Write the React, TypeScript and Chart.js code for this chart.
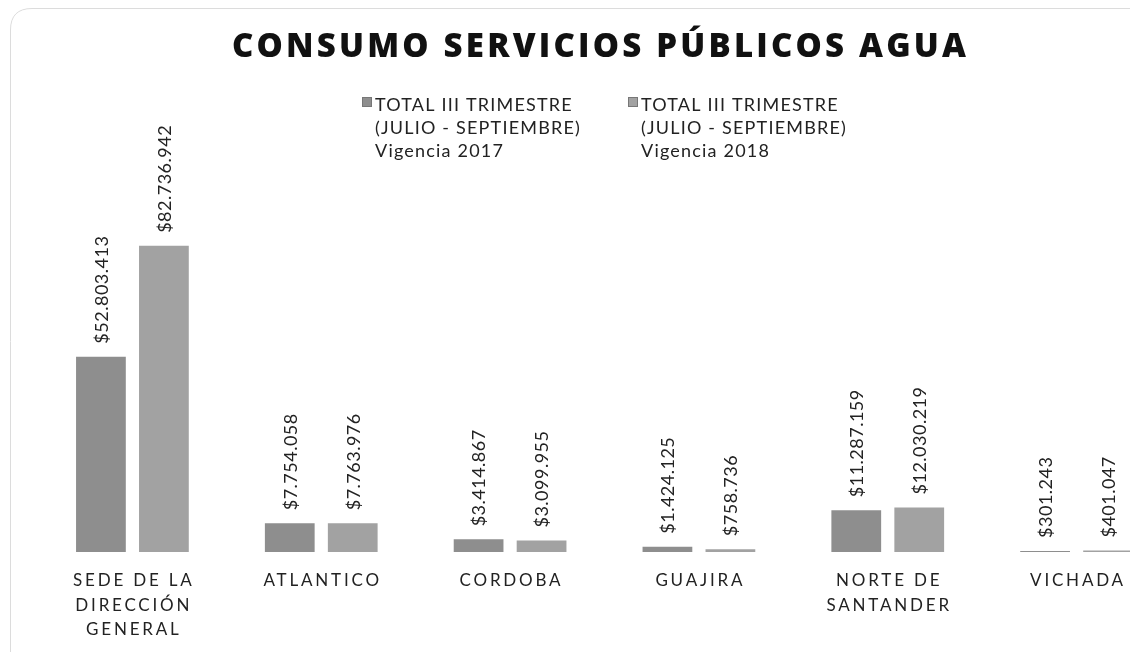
import React, { useEffect, useRef } from "react";
import { Chart, registerables } from "chart.js";

Chart.register(...registerables);

const TITLE = "CONSUMO SERVICIOS PÚBLICOS AGUA";
const categories: string[][] = [
  ["SEDE DE LA", "DIRECCIÓN", "GENERAL"],
  ["ATLANTICO"],
  ["CORDOBA"],
  ["GUAJIRA"],
  ["NORTE DE", "SANTANDER"],
  ["VICHADA"],
];
const seriesNames: string[][] = [
  ["TOTAL III TRIMESTRE", "(JULIO - SEPTIEMBRE)", "Vigencia 2017"],
  ["TOTAL III TRIMESTRE", "(JULIO - SEPTIEMBRE)", "Vigencia 2018"],
];
const values2017: number[] = [52803413, 7754058, 3414867, 1424125, 11287159, 301243];
const values2018: number[] = [82736942, 7763976, 3099955, 758736, 12030219, 401047];
const colors: string[] = ["#8e8e8e", "#a2a2a2"];

const fmt = (v: number) =>
  "$" + Math.round(v).toString().replace(/\B(?=(\d{3})+(?!\d))/g, ".");

const FONT = "Lato, 'Open Sans', sans-serif";

function drawSpaced(ctx: CanvasRenderingContext2D, text: string, x: number, y: number, spacing: number) {
  (ctx as any).letterSpacing = spacing + "px";
  const w = ctx.measureText(text).width - spacing;
  ctx.textAlign = "left";
  ctx.fillText(text, x - w / 2, y);
  (ctx as any).letterSpacing = "0px";
}

const decorPlugin = {
  id: "decor",
  afterDatasetsDraw(chart: any) {
    const ctx: CanvasRenderingContext2D = chart.ctx;
    const xs = chart.scales.x;
    const ys = chart.scales.y;
    ctx.save();

    // faint scanned frame
    ctx.strokeStyle = "#dcdcdc";
    ctx.lineWidth = 1;
    ctx.beginPath();
    ctx.moveTo(10.5, 660);
    ctx.lineTo(10.5, 30);
    ctx.quadraticCurveTo(10.5, 8.5, 32, 8.5);
    ctx.lineTo(1180, 8.5);
    ctx.stroke();

    // title
    ctx.fillStyle = "#111";
    ctx.font = "800 33px 'Open Sans', sans-serif";
    ctx.textBaseline = "alphabetic";
    (ctx as any).letterSpacing = "0px";
    const w0 = ctx.measureText(TITLE).width;
    const target = 734;
    const ls = (target - w0) / (TITLE.length - 1);
    (ctx as any).letterSpacing = ls + "px";
    ctx.textAlign = "left";
    ctx.fillText(TITLE, 599 - target / 2, 57);
    (ctx as any).letterSpacing = "0px";

    // legend
    const legendX = [362, 628];
    ctx.font = "18px " + FONT;
    ctx.textBaseline = "alphabetic";
    seriesNames.forEach((lines, i) => {
      ctx.fillStyle = colors[i];
      ctx.fillRect(legendX[i], 97, 10, 10);
      ctx.strokeStyle = "#777";
      ctx.strokeRect(legendX[i] + 0.5, 97.5, 9, 9);
      ctx.fillStyle = "#222";
      ctx.textAlign = "left";
      (ctx as any).letterSpacing = "1.2px";
      lines.forEach((ln, j) => {
        ctx.fillText(ln, legendX[i] + 13, 111 + j * 23);
      });
      (ctx as any).letterSpacing = "0px";
    });

    // category labels
    ctx.fillStyle = "#222";
    ctx.font = "17px " + FONT;
    ctx.textBaseline = "middle";
    categories.forEach((lines, i) => {
      const cx = xs.getPixelForValue(i);
      lines.forEach((ln, j) => {
        drawSpaced(ctx, ln, cx, 581 + j * 24.5, 2.8);
      });
    });

    // data labels
    ctx.font = "18px " + FONT;
    ctx.fillStyle = "#222";
    chart.data.datasets.forEach((ds: any, di: number) => {
      const meta = chart.getDatasetMeta(di);
      meta.data.forEach((bar: any, i: number) => {
        const v = ds.data[i];
        const top = ys.getPixelForValue(v);
        ctx.save();
        ctx.translate(bar.x + 1, top - 13);
        ctx.rotate(-Math.PI / 2);
        ctx.textAlign = "left";
        ctx.textBaseline = "middle";
        (ctx as any).letterSpacing = "0.5px";
        ctx.fillText(fmt(v), 0, 0);
        ctx.restore();
      });
    });

    ctx.restore();
  },
};

export default function App() {
  const ref = useRef<HTMLCanvasElement | null>(null);
  useEffect(() => {
    if (!ref.current) return;
    const chart = new Chart(ref.current, {
      type: "bar",
      data: {
        labels: categories.map((c) => c.join(" ")),
        datasets: [
          {
            label: seriesNames[0].join(" "),
            data: values2017,
            backgroundColor: colors[0],
            categoryPercentage: 0.667,
            barPercentage: 0.79,
          },
          {
            label: seriesNames[1].join(" "),
            data: values2018,
            backgroundColor: colors[1],
            categoryPercentage: 0.667,
            barPercentage: 0.79,
          },
        ],
      },
      options: {
        responsive: false,
        animation: false,
        layout: { padding: { top: 182, bottom: 100, left: 38, right: 9 } },
        plugins: {
          legend: { display: false },
          title: { display: false },
          tooltip: { enabled: false },
        },
        scales: {
          x: { display: false },
          y: { display: false, min: 0, max: 100000000 },
        },
      },
      plugins: [decorPlugin],
    });
    return () => chart.destroy();
  }, []);

  return (
    <div style={{ position: "fixed", left: 0, top: 0, width: 1130, height: 652, overflow: "hidden", background: "#fff" }}>
      <canvas ref={ref} width={1180} height={652} style={{ width: 1180, height: 652, display: "block" }} />
    </div>
  );
}
